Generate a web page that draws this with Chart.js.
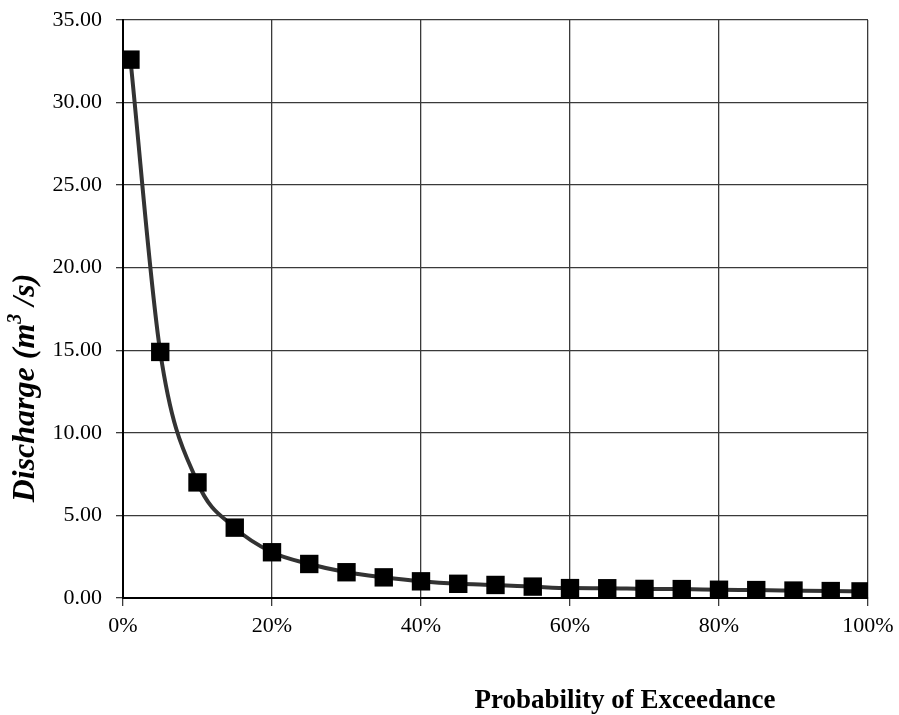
<!DOCTYPE html>
<html>
<head>
<meta charset="utf-8">
<script src="https://cdn.jsdelivr.net/npm/chart.js@4.4.1/dist/chart.umd.min.js"></script>
<style>
  html, body { margin: 0; padding: 0; background: #fff; }
  #wrap { width: 899px; height: 715px; position: relative; }
</style>
</head>
<body>
<div id="wrap"><canvas id="fdc"></canvas></div>
<script>
// Flow duration curve data
const exceedance = [1, 5, 10, 15, 20, 25, 30, 35, 40, 45, 50, 55, 60, 65, 70, 75, 80, 85, 90, 95, 99];
const discharge = [32.6, 14.9, 7.0, 4.26, 2.77, 2.06, 1.56, 1.25, 1.01, 0.86, 0.79, 0.69, 0.6, 0.59, 0.55, 0.54, 0.5, 0.48, 0.45, 0.42, 0.4];
const xTicks = [0, 20, 40, 60, 80, 100];
const yTicks = [0, 5, 10, 15, 20, 25, 30, 35];

const serif = "'Liberation Serif', 'DejaVu Serif', serif";

// axis titles drawn by hand: the reference places them off-centre
const axisTitles = {
    id: 'axisTitles',
    afterDraw(chart) {
        const ctx = chart.ctx;
        ctx.save();
        ctx.fillStyle = '#000';
        ctx.textBaseline = 'alphabetic';

        // x title
        ctx.font = 'bold 27px ' + serif;
        ctx.textAlign = 'center';
        ctx.fillText('Probability of Exceedance', 625, 708);

        // y title with superscript
        ctx.translate(34, 388);
        ctx.rotate(-Math.PI / 2);
        const big = 'italic bold 32px ' + serif;
        const small = 'italic bold 20px ' + serif;
        const a = 'Discharge (m', b = '3', c = ' /s)';
        ctx.font = big; const wa = ctx.measureText(a).width, wc = ctx.measureText(c).width;
        ctx.font = small; const wb = ctx.measureText(b).width;
        let x = -(wa + wb + wc) / 2;
        ctx.textAlign = 'left';
        ctx.font = big; ctx.fillText(a, x, 0); x += wa;
        ctx.font = small; ctx.fillText(b, x, -13); x += wb;
        ctx.font = big; ctx.fillText(c, x, 0);
        ctx.restore();
    }
};

new Chart(document.getElementById('fdc'), {
    type: 'line',
    data: {
        datasets: [{
            data: exceedance.map((p, i) => ({ x: p, y: discharge[i] })),
            borderColor: '#333333',
            borderWidth: 4,
            cubicInterpolationMode: 'monotone',
            pointStyle: 'rect',
            pointRadius: 13,
            pointHoverRadius: 13,
            pointBackgroundColor: '#000',
            pointBorderColor: '#000',
            pointBorderWidth: 0
        }]
    },
    options: {
        responsive: true,
        maintainAspectRatio: false,
        animation: false,
        layout: { padding: { top: 20, right: 31, left: 0, bottom: 0 } },
        plugins: { legend: { display: false }, tooltip: { enabled: false } },
        scales: {
            x: {
                type: 'linear',
                min: 0, max: 100,
                afterBuildTicks: s => { s.ticks = xTicks.map(v => ({ value: v })); },
                afterFit: s => { s.height = 117; s.paddingLeft = 0; s.paddingRight = 0; },
                ticks: {
                    callback: v => v + '%',
                    color: '#000',
                    font: { family: serif, size: 22 },
                    padding: 7,
                    maxRotation: 0
                },
                grid: { color: '#3a3a3a', lineWidth: 1.3, tickLength: 8 },
                border: { color: '#000', width: 2 }
            },
            y: {
                min: 0, max: 35,
                afterBuildTicks: s => { s.ticks = yTicks.map(v => ({ value: v })); },
                afterFit: s => { s.width = 123; s.paddingTop = 0; s.paddingBottom = 0; },
                ticks: {
                    callback: v => v.toFixed(2),
                    color: '#000',
                    font: { family: serif, size: 22 },
                    padding: 14
                },
                grid: { color: '#3a3a3a', lineWidth: 1.3, tickLength: 7 },
                border: { color: '#000', width: 2 }
            }
        }
    },
    plugins: [axisTitles]
});
</script>
</body>
</html>
